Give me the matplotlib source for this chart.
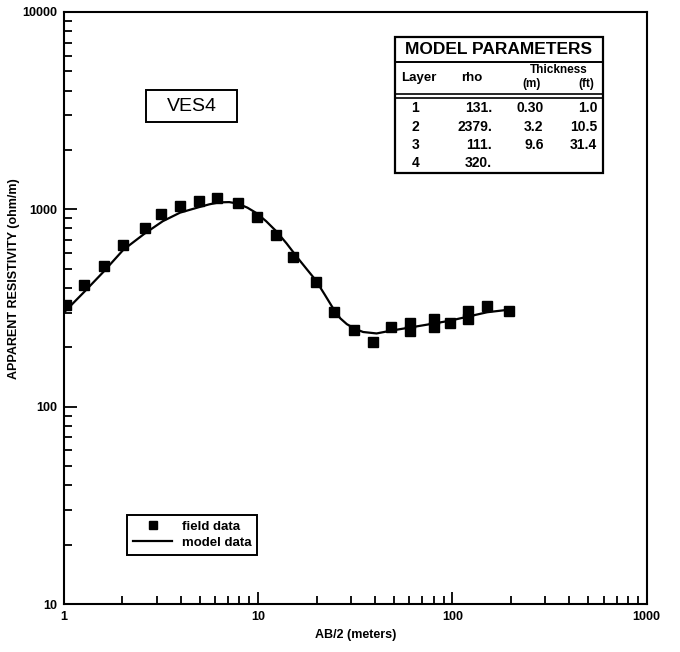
import numpy as np
import matplotlib
matplotlib.use("Agg")
import matplotlib.pyplot as plt
from matplotlib.ticker import LogLocator, FixedLocator, FixedFormatter, NullFormatter
from matplotlib.lines import Line2D

plt.rcParams['font.family'] = ['Liberation Sans', 'DejaVu Sans']
plt.rcParams['font.weight'] = 'bold'

# field data
field_x = [1.02, 1.27, 1.60, 2.01, 2.60, 3.17, 3.96, 4.98, 6.17, 7.85, 9.85,
           12.4, 15.2, 19.8, 24.7, 31.2, 39.1, 48.5, 60.7, 60.7, 80.4, 80.4,
           97.7, 120, 120, 151, 195]
field_y = [326, 416, 517, 662, 805, 943, 1040, 1104, 1139, 1083, 918,
           738, 572, 426, 301, 245, 213, 252, 266, 242, 278, 252,
           267, 307, 278, 322, 307]

# model curve
model_x = [1.0, 1.27, 1.6, 2.02, 2.6, 3.23, 3.96, 4.98, 5.6, 6.3, 7.1, 7.85,
           8.8, 9.85, 11.0, 12.4, 14.0, 16.0, 17.8, 19.8, 22.0, 24.7, 26.5,
           28.6, 31.5, 34.7, 40.7, 48.5, 60.7, 80.4, 97.7, 120, 151, 195]
model_y = [300, 381, 483, 623, 753, 871, 962, 1027, 1060, 1085, 1088, 1069,
           1020, 954, 870, 774, 672, 566, 497, 437, 370, 307, 280,
           262, 248, 239, 235, 243, 252, 264, 273, 286, 301, 310]

# model parameter table
layers = ['1', '2', '3', '4']
rho = ['131.', '2379.', '111.', '320.']
thick_m = ['0.30', '3.2', '9.6', '']
thick_ft = ['1.0', '10.5', '31.4', '']

fig = plt.figure(figsize=(6.8, 6.52), dpi=100)
ax = fig.add_axes([0.094, 0.0736, 0.857, 0.908])

ax.plot(model_x, model_y, color='black', lw=1.6, zorder=2)
ax.plot(field_x, field_y, ls='none', marker='s', ms=6.8, color='black', zorder=3)

ax.set_xscale('log')
ax.set_yscale('log')
ax.set_xlim(1, 1000)
ax.set_ylim(10, 10000)

ax.xaxis.set_major_locator(FixedLocator([1, 10, 100, 1000]))
ax.xaxis.set_major_formatter(FixedFormatter(['1', '10', '100', '1000']))
ax.yaxis.set_major_locator(FixedLocator([10, 100, 1000, 10000]))
ax.yaxis.set_major_formatter(FixedFormatter(['10', '100', '1000', '10000']))
ax.xaxis.set_minor_locator(LogLocator(base=10, subs=np.arange(2, 10)))
ax.yaxis.set_minor_locator(LogLocator(base=10, subs=np.arange(2, 10)))
ax.xaxis.set_minor_formatter(NullFormatter())
ax.yaxis.set_minor_formatter(NullFormatter())

ax.tick_params(which='both', direction='in', top=False, right=False,
               width=1.3, labelsize=9, colors='black')
ax.tick_params(which='major', length=9, pad=5)
ax.tick_params(which='minor', length=6)
for lab in ax.get_xticklabels() + ax.get_yticklabels():
    lab.set_fontweight('bold')
for sp in ax.spines.values():
    sp.set_linewidth(1.5)

ax.set_xlabel('AB/2 (meters)', fontsize=9, fontweight='bold', labelpad=4)
ax.set_ylabel('APPARENT RESISTIVITY (ohm/m)', fontsize=9, fontweight='bold')
ax.yaxis.set_label_coords(-0.075, 0.549)

tr = ax.transAxes

# VES4 label
ax.add_patch(plt.Rectangle((0.141, 0.814), 0.156, 0.054, transform=tr,
                           fc='white', ec='black', lw=1.4, zorder=5))
ax.text(0.219, 0.841, 'VES4', transform=tr, fontsize=14,
        fontweight='normal', ha='center', va='center', zorder=6)

# legend
handles = [Line2D([], [], ls='none', marker='s', ms=6, color='black'),
           Line2D([], [], color='black', lw=1.6)]
leg = ax.legend(handles, ['field data', 'model data'], loc='lower left',
                bbox_to_anchor=(0.108, 0.083), borderaxespad=0,
                prop={'size': 9.5, 'weight': 'bold'},
                fancybox=False, edgecolor='black', framealpha=1,
                handlelength=3.0, borderpad=0.45, labelspacing=0.3,
                handletextpad=0.7)
leg.get_frame().set_linewidth(1.4)

# model parameters table
x0, x1 = 0.568, 0.925
ytop, ybot = 0.958, 0.728
ax.add_patch(plt.Rectangle((x0, ybot), x1 - x0, ytop - ybot, transform=tr,
                           fc='white', ec='black', lw=1.6, zorder=5))
ax.plot([x0, x1], [0.916, 0.916], transform=tr, color='black', lw=1.4, zorder=6)
ax.plot([x0, x1], [0.861, 0.861], transform=tr, color='black', lw=1.2, zorder=6)
ax.plot([x0, x1], [0.855, 0.855], transform=tr, color='black', lw=1.2, zorder=6)

ax.text((x0 + x1) / 2, 0.937, 'MODEL PARAMETERS', transform=tr, fontsize=12.5,
        fontweight='bold', ha='center', va='center', zorder=7)
ax.text(0.609, 0.889, 'Layer', transform=tr, fontsize=9.5, ha='center',
        va='center', zorder=7)
ax.text(0.700, 0.889, 'rho', transform=tr, fontsize=9.5, ha='center',
        va='center', zorder=7)
ax.text(0.849, 0.902, 'Thickness', transform=tr, fontsize=8.5, ha='center',
        va='center', zorder=7)
ax.text(0.803, 0.879, '(m)', transform=tr, fontsize=8.5, ha='center',
        va='center', zorder=7)
ax.text(0.897, 0.879, '(ft)', transform=tr, fontsize=8.5, ha='center',
        va='center', zorder=7)

row_y = [0.838, 0.806, 0.775, 0.745]
for i, yy in enumerate(row_y):
    ax.text(0.603, yy, layers[i], transform=tr, fontsize=10, ha='center',
            va='center', zorder=7)
    ax.text(0.735, yy, rho[i], transform=tr, fontsize=10, ha='right',
            va='center', zorder=7)
    ax.text(0.823, yy, thick_m[i], transform=tr, fontsize=10, ha='right',
            va='center', zorder=7)
    ax.text(0.915, yy, thick_ft[i], transform=tr, fontsize=10, ha='right',
            va='center', zorder=7)

fig.savefig('out.png', dpi=100)
